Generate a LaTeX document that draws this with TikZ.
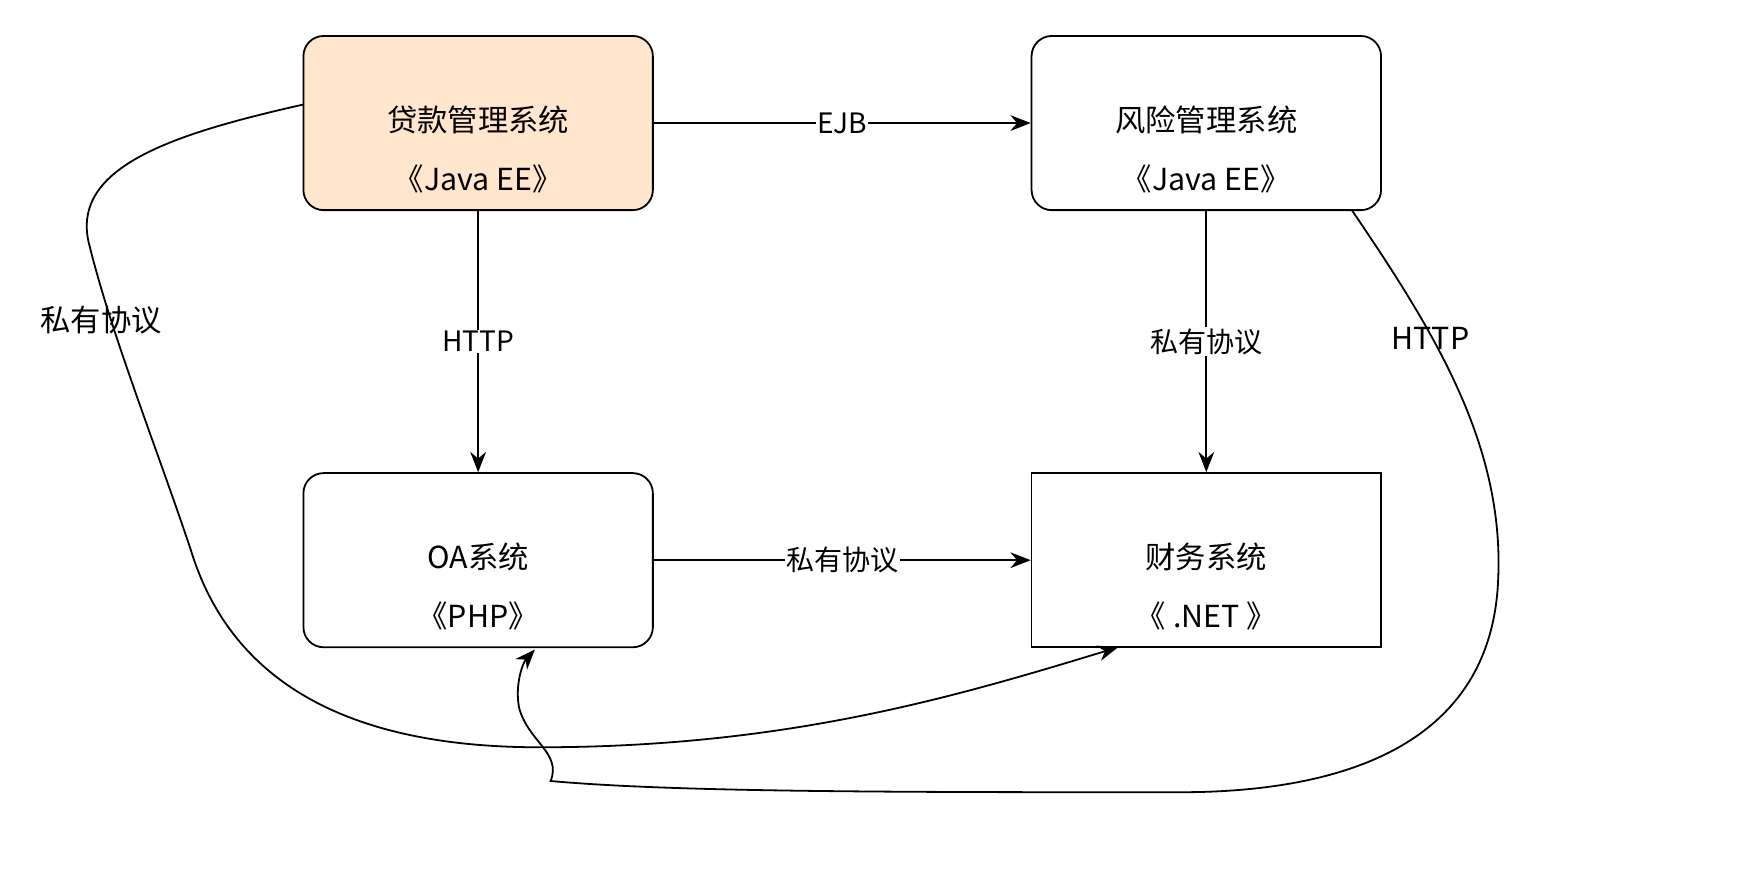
\documentclass[tikz,border=0pt]{standalone}
\usepackage{fontspec}
\setmainfont{Noto Sans CJK SC}
\usetikzlibrary{arrows.meta}
\begin{document}
\begin{tikzpicture}[x=1pt,y=-1pt,
  box/.style={draw,line width=1.6pt,rounded corners=18pt,minimum width=311pt,minimum height=155pt},
  sq/.style={box,rounded corners=0pt},
  txt/.style={align=center,font=\fontsize{27}{52}\selectfont},
  arr/.style={line width=1.6pt,-{Stealth[length=18pt,width=14pt]}},
  lab/.style={fill=white,font=\fontsize{25}{28}\selectfont,inner sep=1pt},
  flab/.style={font=\fontsize{27}{30}\selectfont}]
\useasboundingbox (0,0) rectangle (1552,788);
\node[box,fill={rgb,255:red,255;green,230;blue,204}] (loan) at (425.5,109.5) {};
\node[box] (risk) at (1073.5,109.5) {};
\node[box] (oa) at (425.5,498.5) {};
\node[sq] (fin) at (1073.5,498.5) {};
\node[txt] (tloan) at (425.5,133) {贷款管理系统\\《Java EE》};
\node[txt] (trisk) at (1073.5,133) {风险管理系统\\《Java EE》};
\node[txt] (toa) at (425.5,522) {OA系统\\《PHP》};
\node[txt] (tfin) at (1073.5,522) {财务系统\\《 .NET 》};
\draw[arr] (loan.east) -- node[lab]{EJB} (risk.west);
\draw[arr] (loan.south) -- node[lab]{HTTP} (oa.north);
\draw[arr] (risk.south) -- node[lab]{私有协议} (fin.north);
\draw[arr] (oa.east) -- node[lab]{私有协议} (fin.west);
\coordinate (a1) at (270,93);
\coordinate (a2) at (995,576);
\draw[arr] (a1) .. controls (150,120) and (60,150) .. (80,220)
  .. controls (100,300) and (140,400) .. (170,490)
  .. controls (210,620) and (330,665) .. (480,665)
  .. controls (700,665) and (850,620) .. (a2);
\node[flab] (l1) at (90,285) {私有协议};
\coordinate (b1) at (1203,187);
\coordinate (b2) at (476,578);
\draw[arr] (b1) .. controls (1280,300) and (1340,400) .. (1333,520)
  .. controls (1325,660) and (1200,705) .. (1050,705)
  .. controls (800,705) and (600,705) .. (490,695)
  .. controls (500,670) and (470,660) .. (462,630)
  .. controls (458,610) and (465,590) .. (b2);
\node[flab] (l2) at (1273,301) {HTTP};
\end{tikzpicture}
\end{document}
